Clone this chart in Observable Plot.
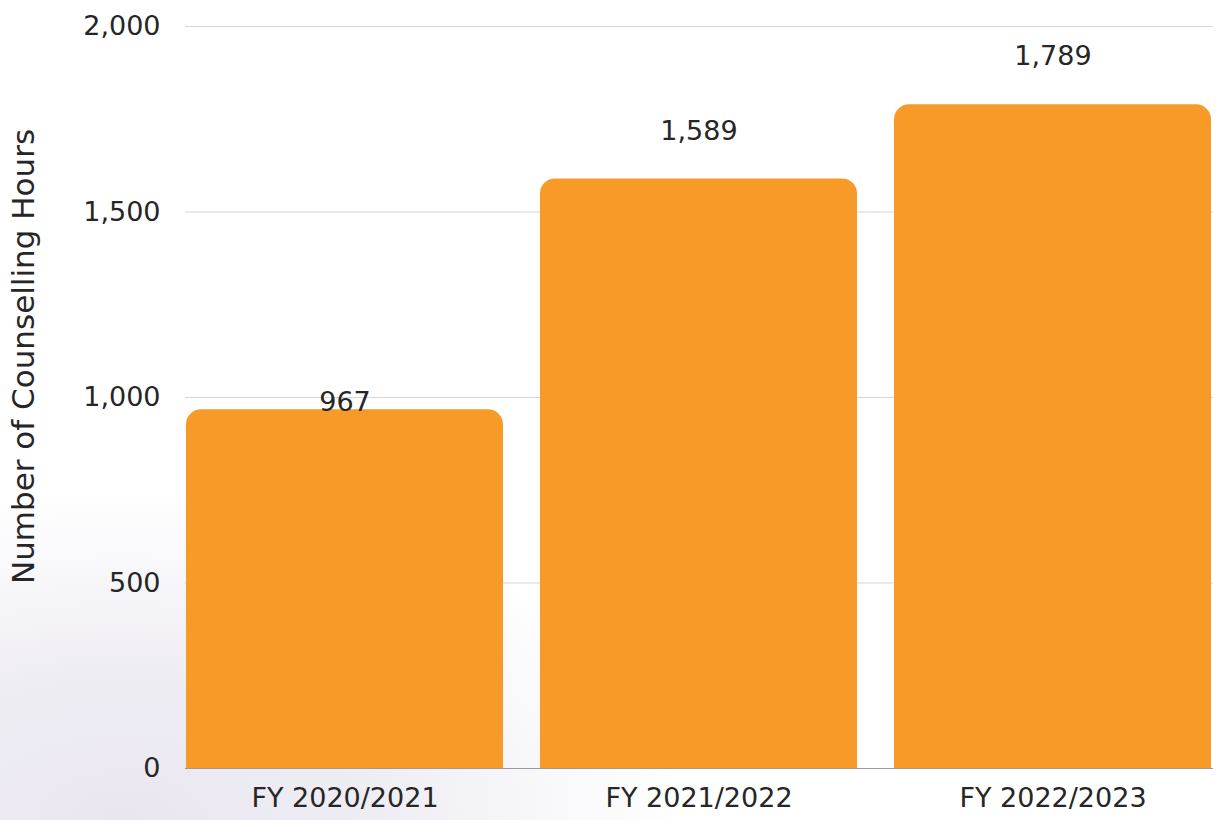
<!DOCTYPE html>
<html>
<head>
<meta charset="utf-8">
<script src="https://cdn.jsdelivr.net/npm/d3@7"></script>
<script src="https://cdn.jsdelivr.net/npm/@observablehq/plot@0.6"></script>
<style>
  html, body { margin: 0; padding: 0; width: 1217px; height: 820px; overflow: hidden;
    background: radial-gradient(ellipse 560px 330px at 10% 100%, #e9e6f0 0%, #efedf4 45%, rgba(255,255,255,0) 100%), #ffffff; }
  #chart svg { display: block; }
</style>
</head>
<body>
<div id="chart"></div>
<script>
const categories = ["FY 2020/2021", "FY 2021/2022", "FY 2022/2023"];
const hours = [967, 1589, 1789];
const yTicks = [0, 500, 1000, 1500, 2000];
const yTitle = "Number of Counselling Hours";

const data = categories.map((c, i) => ({year: c, hours: hours[i]}));
const fmt = d3.format(",");
const barColor = "#F79A28";
const ink = "#262626";
const fs = 27;

const chart = Plot.plot({
  width: 1217,
  height: 820,
  marginLeft: 185,
  marginRight: 4,
  marginTop: 26,
  marginBottom: 52,
  style: {fontFamily: "'DejaVu Sans', sans-serif", fontSize: fs + "px", color: ink, background: "transparent"},
  x: {domain: categories, paddingInner: 0.104, paddingOuter: 0, label: null},
  y: {domain: [0, 2000], label: null},
  marks: [
    Plot.gridY(yTicks, {stroke: "#d6d6d6", strokeOpacity: 1, strokeWidth: 1.2}),
    Plot.barY(data, {x: "year", y: "hours", fill: barColor, rx: 15}),
    Plot.barY(data, {x: "year", y: "hours", fill: barColor, insetTop: 16}),
    Plot.ruleY([0], {stroke: "#9a9a9a", strokeWidth: 1}),
    Plot.axisY(yTicks, {tickSize: 0, tickPadding: 25, tickFormat: fmt, label: null, fontSize: fs}),
    Plot.axisX({tickSize: 0, tickPadding: 19, label: null, fontSize: fs}),
    Plot.text(data.filter(d => d.hours >= 1000), {x: "year", y: "hours", text: d => fmt(d.hours), dy: -48, fontSize: fs, fill: ink}),
    Plot.text(data.filter(d => d.hours < 1000), {x: "year", y: "hours", text: d => fmt(d.hours), dy: -7, fontSize: fs, fill: ink}),
    Plot.text([yTitle], {frameAnchor: "left", textAnchor: "middle", text: d => d, rotate: -90, dx: -161, dy: -41, fontSize: 31, fill: ink})
  ]
});
document.getElementById("chart").appendChild(chart);
</script>
</body>
</html>
